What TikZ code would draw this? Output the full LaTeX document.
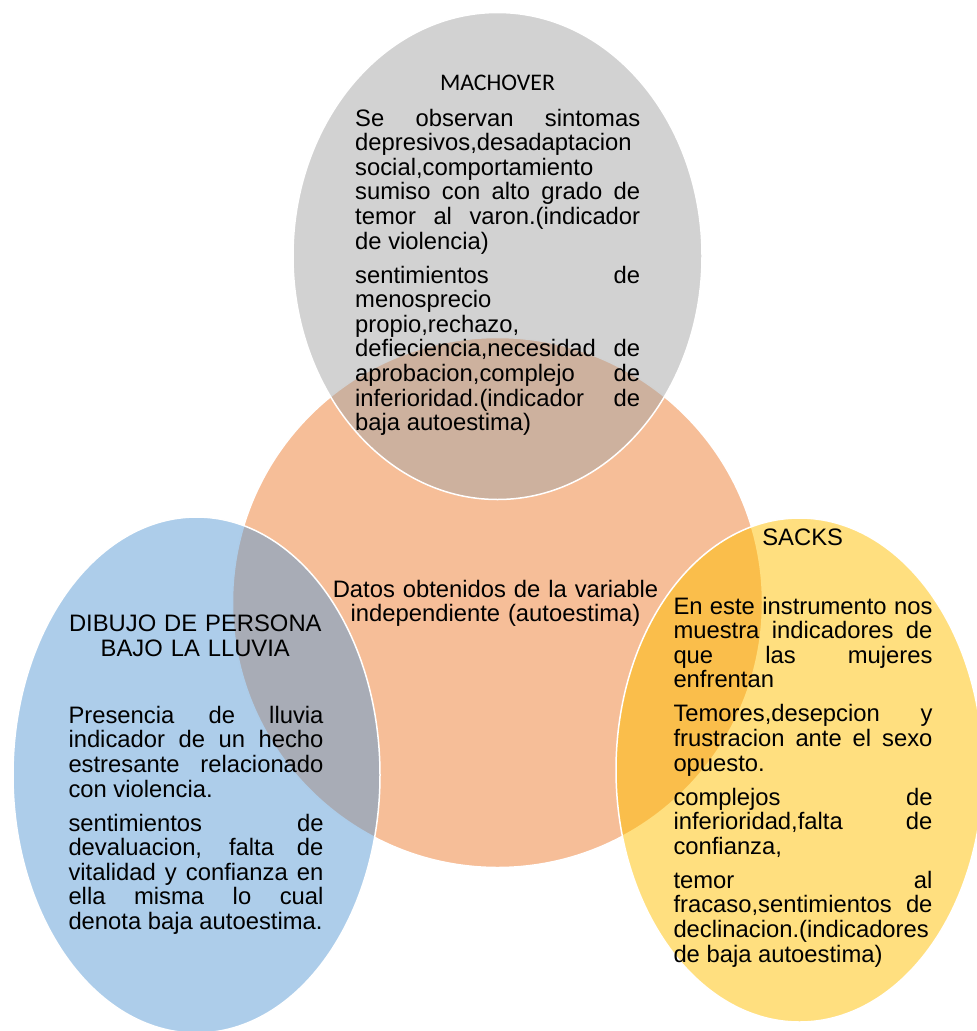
\documentclass[tikz,border=0pt]{standalone}
\usepackage{fontspec}
\setmainfont{Liberation Sans}
\newfontfamily\calibrifont{Carlito}
\definecolor{vorange}{HTML}{ED7D31}
\definecolor{vgrey}{HTML}{A5A5A5}
\definecolor{vblue}{HTML}{5B9BD5}
\definecolor{vyellow}{HTML}{FFC000}
\hyphenpenalty=10000
\exhyphenpenalty=10000

\begin{document}
\begin{tikzpicture}[x=1pt,y=-1pt,
  blob/.style={draw=white,line width=1.5pt,fill opacity=0.5},
  txt/.style={inner sep=0pt,font=\fontsize{23.8}{24.6}\selectfont},
  para/.style={txt,anchor=base west,text width=#1,align=justify,
    execute at begin node={\setlength{\parskip}{9.4pt}}}]
\useasboundingbox (0,0) rectangle (977,1031);

% circles
\draw[blob,fill=vorange] (497.5,602.5) circle [radius=265pt];
\draw[blob,fill=vgrey] (497.5,256) ellipse [x radius=204.5pt,y radius=243.5pt];
\draw[blob,fill=vblue] (196.5,775) ellipse [x radius=183.5pt,y radius=258pt];
\draw[blob,fill=vyellow] (799.5,770) ellipse [x radius=183.5pt,y radius=252pt];

% centre
\node[txt,anchor=base,text width=340pt,align=center] (datos) at (495.5,597)
  {Datos obtenidos de la variable\\independiente (autoestima)};

% top
\node[txt,anchor=base,font=\calibrifont\fontsize{23.8}{24.6}\selectfont] (machover) at (497.5,90) {MACHOVER};
\node[para=285pt] (machovertxt) at (355,126)
  {Se observan sintomas\linebreak depresivos,desadaptacion\newline
   social,comportamiento\newline sumiso con alto grado de\linebreak
   temor al varon.(indicador\linebreak de violencia)\par
   sentimientos de\linebreak menosprecio\newline propio,rechazo,\newline
   defieciencia,necesidad de\linebreak aprobacion,complejo de\linebreak
   inferioridad.(indicador de\linebreak baja autoestima)};

% left
\node[txt,anchor=base,text width=270pt,align=center] (dibujo) at (195.3,631.7)
  {DIBUJO DE PERSONA\\BAJO LA LLUVIA};
\node[para=255pt] (dibujotxt) at (68.3,723.3)
  {Presencia de lluvia\linebreak indicador de un hecho\linebreak
   estresante relacionado\linebreak con violencia.\par
   sentimientos de\linebreak devaluacion, falta de\linebreak
   vitalidad y confianza en\linebreak ella misma lo cual\linebreak
   denota baja autoestima.};

% right
\node[txt,anchor=base] (sacks) at (802.7,545.7) {SACKS};
\node[para=259pt] (sackstxt) at (673.3,614)
  {En este instrumento nos\linebreak muestra indicadores de\linebreak
   que las mujeres\linebreak enfrentan\par
   Temores,desepcion y\linebreak frustracion ante el sexo\linebreak opuesto.\par
   complejos de\linebreak inferioridad,falta de\linebreak confianza,\par
   temor al\linebreak fracaso,sentimientos de\linebreak
   declinacion.(indicadores\newline de baja autoestima)};
\end{tikzpicture}
\end{document}
